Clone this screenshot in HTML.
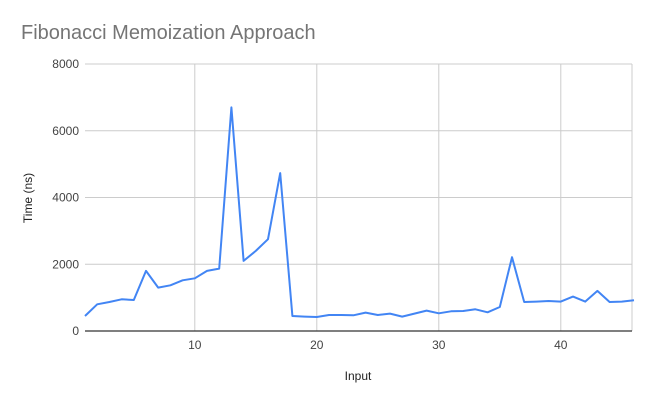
<!DOCTYPE html>
<html><head><meta charset="utf-8"><style>
body{margin:0;background:#fff;font-family:"Liberation Sans",Arial,sans-serif}
</style></head><body>
<svg id="c" width="652" height="403" xmlns="http://www.w3.org/2000/svg">
<rect width="652" height="403" fill="#fff"/>
<text x="21" y="39" font-size="20" fill="#757575">Fibonacci Memoization Approach</text>
<g id="grid"></g><g id="ticks"></g>
<text x="358" y="380" font-size="12" text-anchor="middle" fill="#222">Input</text>
<text transform="translate(32,198) rotate(-90)" font-size="12" text-anchor="middle" fill="#222">Time (ns)</text>
<path id="line" fill="none" stroke="#4285f4" stroke-width="2" stroke-linejoin="round"/>
</svg>
<script>
const inputs=[1,2,3,4,5,6,7,8,9,10,11,12,13,14,15,16,17,18,19,20,21,22,23,24,25,26,27,28,29,30,31,32,33,34,35,36,37,38,39,40,41,42,43,44,45,46];
const times=[450,800,870,950,930,1800,1300,1370,1520,1580,1800,1870,6700,2100,2400,2750,4730,450,430,420,480,480,470,550,480,520,430,520,610,530,590,600,650,560,720,2210,870,880,900,880,1030,880,1200,870,880,920];
const yTicks=[0,2000,4000,6000,8000];
const xTicks=[10,20,30,40];
const X0=85,X1=634,Y0=331,Y1=64;
const xs=v=>X0+(v-1)/(46-1)*(X1-X0);
const ys=v=>Y0-v/8000*(Y0-Y1);
const NS="http://www.w3.org/2000/svg";
const g=document.getElementById('grid'),t=document.getElementById('ticks');
function mk(tag,a,p){const e=document.createElementNS(NS,tag);for(const k in a)e.setAttribute(k,a[k]);p.appendChild(e);return e;}
yTicks.forEach(v=>{
 if(v>0){const l=mk('line',{x1:X0,x2:632,y1:ys(v),y2:ys(v),stroke:'#ccc'},g);
 
 }
 const tx=mk('text',{x:79,y:ys(v)+4,'font-size':12,'text-anchor':'end',fill:'#444'},t);tx.textContent=v;
 
 
});
xTicks.forEach(v=>{
 const l=mk('line',{x1:xs(v),x2:xs(v),y1:Y1,y2:Y0,stroke:'#ccc'},g);
 
 
 const tx=mk('text',{x:xs(v),y:349,'font-size':12,'text-anchor':'middle',fill:'#444'},t);tx.textContent=v;
 
 
});
const r=mk('line',{x1:632,x2:632,y1:Y1,y2:Y0,stroke:'#ccc'},g);


const ax=mk('line',{x1:X0,x2:632,y1:Y0,y2:Y0,stroke:'#333','stroke-width':1.3},t);


document.getElementById('line').setAttribute('d',inputs.map((x,i)=>(i?'L':'M')+xs(x).toFixed(1)+','+ys(times[i]).toFixed(1)).join(''));
</script>
</body></html>
